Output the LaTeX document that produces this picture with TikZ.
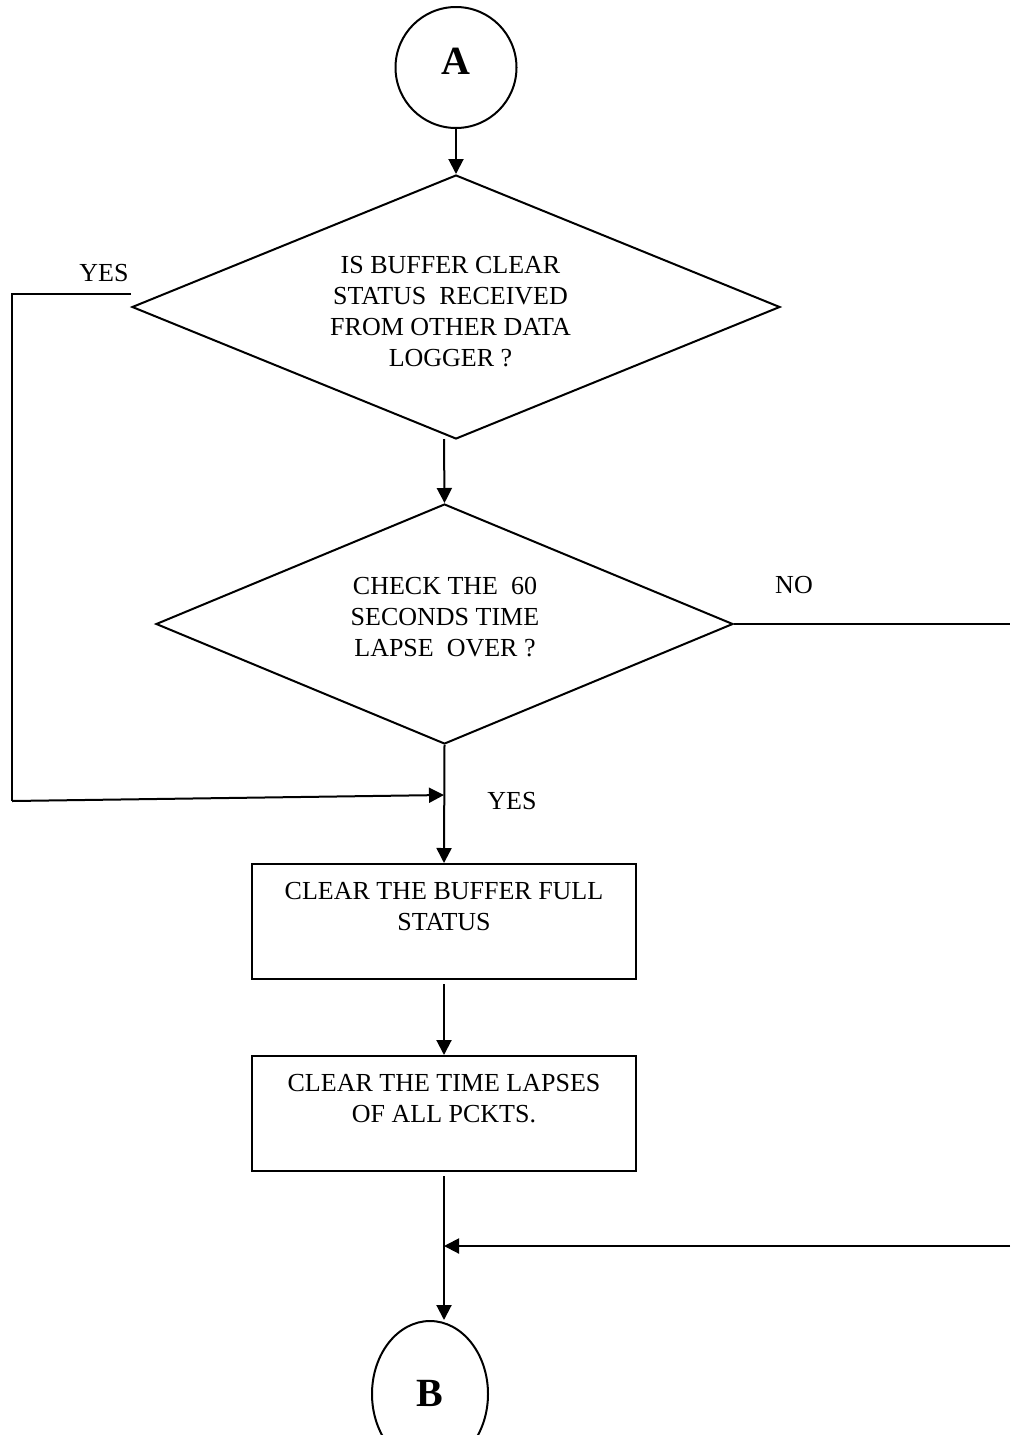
\documentclass[tikz,border=0pt]{standalone}
\usepackage{fontspec}
\setmainfont{Liberation Serif}
\usetikzlibrary{arrows.meta,shapes.geometric}
\tikzset{
  ln/.style={line width=2pt},
  arr/.style={ln,-{Triangle[length=15pt,width=15pt]}},
  txt/.style={inner sep=0pt,align=center,font=\fontsize{26}{31}\selectfont},
  lbl/.style={inner sep=0pt,font=\fontsize{26}{30}\selectfont},
  conn/.style={ln,draw,circle,minimum size=121pt,inner sep=0pt},
  big/.style={inner sep=0pt,font=\fontsize{40}{40}\selectfont\bfseries},
  dec/.style={ln,draw,diamond,inner sep=0pt},
  proc/.style={ln,draw,rectangle,minimum width=384pt,minimum height=115pt,inner sep=0pt},
}
\begin{document}
\begin{tikzpicture}[x=1pt,y=-1pt]
\useasboundingbox (0,0) rectangle (1010,1435);
% connectors
\node[conn] (A) at (456,67.5) {};
\node[big] (Atxt) at (456,61) {A};
\node[ln,draw,ellipse,minimum width=116pt,minimum height=146pt,inner sep=0pt] (B) at (430,1394) {};
\node[big] (Btxt) at (430,1393) {B};
% decisions
\node[dec,minimum width=648pt,minimum height=264pt] (D1) at (456,307) {};
\node[txt,anchor=north] (D1t) at (450.5,256) {IS BUFFER CLEAR\\STATUS\ \ RECEIVED\\FROM OTHER DATA\\LOGGER ?};
\node[dec,minimum width=577pt,minimum height=240pt] (D2) at (444.5,624) {};
\node[txt,anchor=north] (D2t) at (445,577) {CHECK THE\ \ 60\\SECONDS TIME\\LAPSE\ \ OVER ?};
% processes
\node[proc] (P1) at (444,921.5) {};
\node[txt,anchor=north] (P1t) at (444,882) {CLEAR THE BUFFER FULL\\STATUS};
\node[proc] (P2) at (444,1113.5) {};
\node[txt,anchor=north] (P2t) at (444,1074) {CLEAR THE TIME LAPSES\\OF ALL PCKTS.};
% labels
\node[lbl] (yes1) at (104,273.5) {YES};
\node[lbl] (no) at (794,585) {NO};
\node[lbl] (yes2) at (512,801) {YES};
% helper coordinates
\coordinate (d1o) at (444,439);
\coordinate (yl) at (12,294);
\coordinate (yb) at (12,801);
\coordinate (yj) at (444,795);
\coordinate (nr) at (1010,624);
\coordinate (nin) at (1010,1246);
% edges
\draw[arr] (A) -- (D1.north);
\draw[arr] (d1o) -- (D2.north);
\draw[ln] ([yshift=13pt]D1.west) -- (yl) -- (yb);
\draw[arr] (yb) -- (yj);
\draw[arr] (D2.south) -- (P1.north);
\draw[ln] (D2.east) -- (nr);
\draw[arr] ([yshift=-4pt]P1.south) -- (P2.north);
\draw[arr] ([yshift=-4pt]P2.south) -- (B.north -| P2.south);
\draw[arr] (nin) -- (nin -| P2.south);
\end{tikzpicture}
\end{document}
